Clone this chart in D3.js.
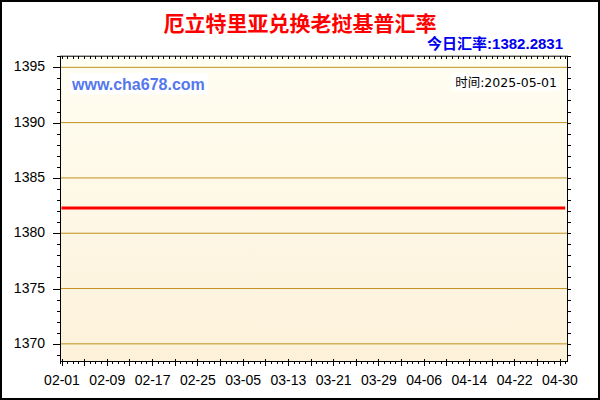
<!DOCTYPE html>
<html>
<head>
<meta charset="utf-8">
<script src="https://cdn.jsdelivr.net/npm/d3@7"></script>
<style>
  body { margin: 0; background: #fff; }
  svg { display: block; }
</style>
</head>
<body>
<div class="canvas"></div>
<script>
// chart data
const dates = ['2025-02-01', '2025-02-09', '2025-02-17', '2025-02-25', '2025-03-05', '2025-03-13',
    '2025-03-21', '2025-03-29', '2025-04-06', '2025-04-14', '2025-04-22', '2025-04-30', '2025-05-01'];
const rates = [1382.2831, 1382.2831, 1382.2831, 1382.2831, 1382.2831, 1382.2831,
    1382.2831, 1382.2831, 1382.2831, 1382.2831, 1382.2831, 1382.2831, 1382.2831];
const xTickLabels = ['02-01', '02-09', '02-17', '02-25', '03-05', '03-13',
    '03-21', '03-29', '04-06', '04-14', '04-22', '04-30'];
const yTickLabels = [1370, 1375, 1380, 1385, 1390, 1395];

const title = '厄立特里亚兑换老挝基普汇率';
const todayRate = '今日汇率:1382.2831';
const siteText = 'www.cha678.com';
const timeText = '时间:2025-05-01';

const W = 600, H = 400;
const plot = {left: 60, right: 568, top: 55.7, bottom: 361};

const parse = d3.timeParse('%Y-%m-%d');
const parseMD = s => parse('2025-' + s);
const data = dates.map((d, i) => ({date: parse(d), value: rates[i]}));

const svg = d3.select('.canvas')
    .append('svg')
    .attr('width', W)
    .attr('height', H);

// x: 02-01 .. 04-30, the frame runs a little past on the right
const x = d3.scaleTime()
    .domain([parseMD('02-01'), parseMD('04-30')])
    .range([61.5, 559.5]);

const y = d3.scaleLinear()
    .domain([1368.45, 1396.05])
    .range([plot.bottom, plot.top]);

// background gradient
const defs = svg.append('defs');
const grad = defs.append('linearGradient')
    .attr('id', 'bg')
    .attr('x1', 0).attr('y1', 0).attr('x2', 0).attr('y2', 1);
grad.append('stop').attr('offset', '0%').attr('stop-color', '#fffef2');
grad.append('stop').attr('offset', '100%').attr('stop-color', '#fdf1da');

svg.append('rect')
    .attr('x', plot.left).attr('y', plot.top)
    .attr('width', plot.right - plot.left)
    .attr('height', plot.bottom - plot.top)
    .attr('fill', 'url(#bg)');

// grid lines
svg.append('g')
    .selectAll('line')
    .data(yTickLabels)
    .join('line')
    .attr('x1', plot.left).attr('x2', plot.right)
    .attr('y1', d => y(d)).attr('y2', d => y(d))
    .attr('stroke', '#c0901c')
    .attr('stroke-width', 1);

// tick positions
const dayStart = parseMD('02-01');
const dayEnd = d3.timeDay.offset(parseMD('04-30'), 2);
const allDays = d3.timeDay.range(dayStart, dayEnd);
const fourDays = d3.timeDay.range(dayStart, dayEnd, 4);
const units = d3.range(1369, 1397);

const styleAxis = g => {
    g.select('.domain').remove();
    g.selectAll('line').attr('stroke', '#000').attr('shape-rendering', 'crispEdges');
};

// bottom axis: minor daily ticks, major every 4 days, labels every 8
svg.append('g')
    .attr('transform', `translate(0, ${plot.bottom})`)
    .call(d3.axisBottom(x).tickValues(allDays).tickSize(3).tickSizeOuter(0).tickFormat(''))
    .call(styleAxis);

svg.append('g')
    .attr('transform', `translate(0, ${plot.bottom})`)
    .call(d3.axisBottom(x).tickValues(fourDays).tickSize(5).tickSizeOuter(0).tickFormat(''))
    .call(styleAxis)
    .call(g => g.selectAll('line').attr('y1', -2));

svg.append('g')
    .attr('transform', `translate(0, ${plot.bottom})`)
    .call(d3.axisBottom(x).tickValues(xTickLabels.map(parseMD)).tickSize(0).tickSizeOuter(0)
        .tickFormat(d3.timeFormat('%m-%d')))
    .call(styleAxis)
    .call(g => g.selectAll('text')
        .attr('y', 24).attr('dy', 0)
        .attr('fill', '#000')
        .style('font-family', '"Liberation Sans", Arial, sans-serif')
        .style('font-size', '14px'));

// top axis: short inward ticks
svg.append('g')
    .attr('transform', `translate(0, ${plot.top})`)
    .call(d3.axisBottom(x).tickValues(allDays).tickSize(3).tickSizeOuter(0).tickFormat(''))
    .call(styleAxis);

// left axis
svg.append('g')
    .attr('transform', `translate(${plot.left}, 0)`)
    .call(d3.axisLeft(y).tickValues(units).tickSize(3).tickSizeOuter(0).tickFormat(''))
    .call(styleAxis);

svg.append('g')
    .attr('transform', `translate(${plot.left}, 0)`)
    .call(d3.axisLeft(y).tickValues(yTickLabels).tickSize(7).tickSizeOuter(0).tickPadding(8)
        .tickFormat(d3.format('d')))
    .call(styleAxis)
    .call(g => g.selectAll('text')
        .attr('fill', '#000')
        .attr('dy', '0.25em')
        .style('font-family', '"Liberation Sans", Arial, sans-serif')
        .style('font-size', '14px'));

// right axis
svg.append('g')
    .attr('transform', `translate(${plot.right}, 0)`)
    .call(d3.axisRight(y).tickValues(units).tickSize(3).tickSizeOuter(0).tickFormat(''))
    .call(styleAxis);

// plot frame
svg.append('rect')
    .attr('x', plot.left + 0.5).attr('y', plot.top + 0.5)
    .attr('width', plot.right - plot.left - 1)
    .attr('height', plot.bottom - plot.top)
    .attr('fill', 'none')
    .attr('stroke', '#000')
    .attr('stroke-width', 1);

svg.append('line')
    .attr('x1', plot.left + 0.5).attr('x2', plot.left + 0.5)
    .attr('y1', plot.bottom).attr('y2', plot.bottom + 3)
    .attr('stroke', '#000');

// labels inside the plot
const site = svg.append('g');
site.append('rect')
    .attr('x', 70).attr('y', 73).attr('width', 138).attr('height', 21)
    .attr('fill', '#fff');
site.append('text')
    .attr('x', 72).attr('y', 90)
    .attr('fill', '#5577ee')
    .style('font-family', '"Liberation Sans", Arial, sans-serif')
    .style('font-size', '16px')
    .style('font-weight', 'bold')
    .text(siteText);

const timeG = svg.append('g');
timeG.append('rect')
    .attr('x', 451).attr('y', 73).attr('width', 108).attr('height', 18)
    .attr('fill', '#fff');
timeG.append('text')
    .attr('x', 557).attr('y', 87)
    .attr('text-anchor', 'end')
    .attr('fill', '#000')
    .style('font-family', '"DejaVu Sans", "Noto Sans CJK SC", sans-serif')
    .style('font-size', '12.5px')
    .text(timeText);

// rate line
const line = d3.line()
    .x(d => x(d.date))
    .y(d => y(d.value));

svg.append('path')
    .datum(data)
    .attr('d', line)
    .attr('fill', 'none')
    .attr('stroke', '#ff0000')
    .attr('stroke-width', 3);

// title
svg.append('text')
    .attr('x', W / 2).attr('y', 31)
    .attr('text-anchor', 'middle')
    .attr('fill', '#ff0000')
    .style('font-family', '"Noto Sans CJK SC", sans-serif')
    .style('font-size', '21px')
    .style('font-weight', 'bold')
    .text(title);

svg.append('text')
    .attr('x', 563).attr('y', 49)
    .attr('text-anchor', 'end')
    .attr('fill', '#0000ee')
    .style('font-family', '"Liberation Sans", "Noto Sans CJK SC", sans-serif')
    .style('font-size', '15px')
    .style('font-weight', 'bold')
    .text(todayRate);

// outer border
svg.append('rect')
    .attr('x', 1).attr('y', 1)
    .attr('width', W - 2).attr('height', H - 2)
    .attr('fill', 'none')
    .attr('stroke', '#000')
    .attr('stroke-width', 2);
</script>
</body>
</html>
